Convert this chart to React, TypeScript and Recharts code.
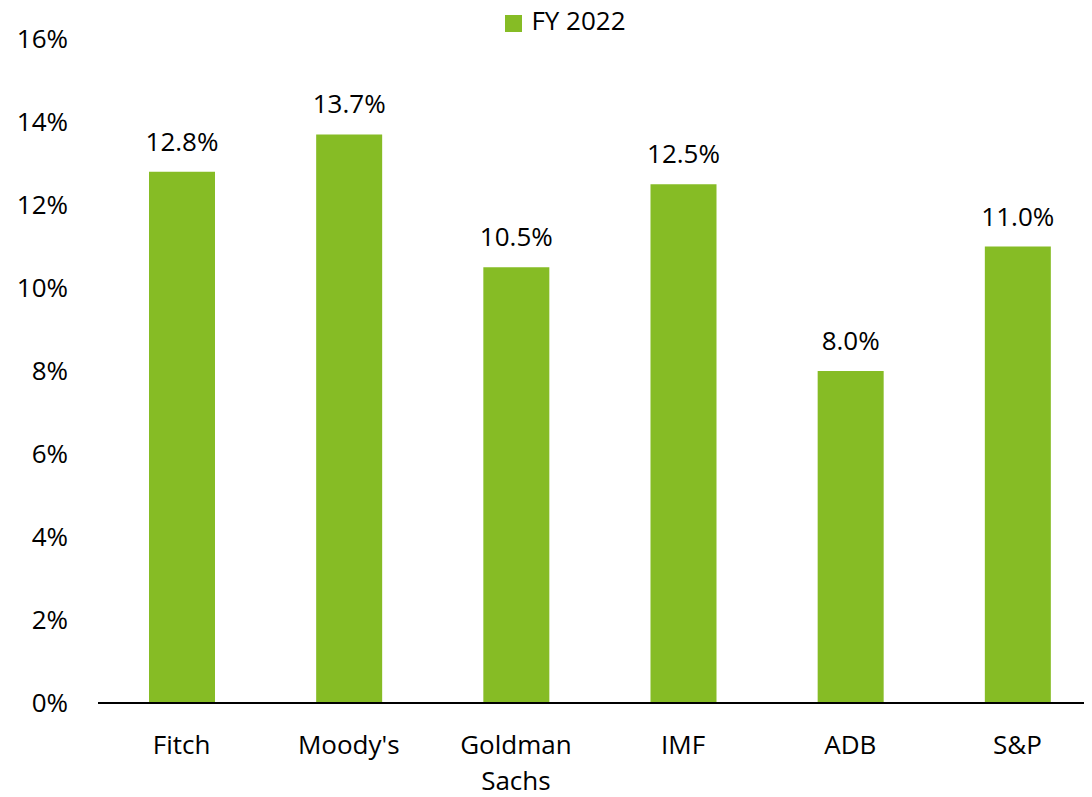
import React from "react";
import { BarChart, Bar, XAxis, YAxis, Legend, LabelList } from "recharts";

const categories = ["Fitch", "Moody's", "Goldman Sachs", "IMF", "ADB", "S&P"];
const fy2022 = [12.8, 13.7, 10.5, 12.5, 8.0, 11.0];
const yTicks = [0, 2, 4, 6, 8, 10, 12, 14, 16];

const FONT = "'Open Sans', 'Liberation Sans', sans-serif";
const GREEN = "#86BC25";
const FS = 26;

// wrap multi-word category names onto separate lines
function CategoryTick(props: any) {
    const { x, y, payload } = props;
    const words = String(payload.value).split(" ");
    return (
        <text
            x={x}
            y={y}
            textAnchor="middle"
            fill="#000"
            fontSize={FS}
            fontFamily={FONT}
        >
            {words.map((w, i) => (
                <tspan key={i} x={x} dy={i === 0 ? "0.71em" : 36}>
                    {w}
                </tspan>
            ))}
        </text>
    );
}

export default function App() {
    const chartData = categories.map((name, i) => ({
        name,
        fy2022: fy2022[i],
    }));

    return (
        <div
            style={{
                width: 1084,
                height: 797,
                overflow: "hidden",
                marginTop: -8,
            }}
        >
            <BarChart
                width={1093}
                height={797}
                data={chartData}
                margin={{ top: 3, right: 0, bottom: 0, left: 0 }}
                style={{ fontFamily: FONT }}
            >
                <Legend
                    verticalAlign="top"
                    align="center"
                    iconType="square"
                    iconSize={17}
                    wrapperStyle={{
                        fontSize: FS,
                        fontFamily: FONT,
                        top: 2,
                        left: 16,
                    }}
                    formatter={(value) => (
                        <span style={{ color: "#000", marginLeft: 5 }}>
                            {value}
                        </span>
                    )}
                />
                <XAxis
                    dataKey="name"
                    height={94}
                    interval={0}
                    tickSize={0}
                    tickMargin={33}
                    tick={<CategoryTick />}
                    axisLine={{ stroke: "#000", strokeWidth: 2 }}
                />
                <YAxis
                    width={90}
                    domain={[0, 16]}
                    ticks={yTicks}
                    tickFormatter={(v) => `${v}%`}
                    axisLine={false}
                    tickLine={false}
                    tickSize={0}
                    tickMargin={30}
                    tick={{ fill: "#000", fontSize: FS, fontFamily: FONT }}
                />
                <Bar
                    dataKey="fy2022"
                    name="FY 2022"
                    fill={GREEN}
                    barSize={66}
                    isAnimationActive={false}
                >
                    <LabelList
                        dataKey="fy2022"
                        position="top"
                        offset={21}
                        formatter={(v: any) => `${Number(v).toFixed(1)}%`}
                        style={{ fill: "#000", fontSize: FS, fontFamily: FONT }}
                    />
                </Bar>
            </BarChart>
        </div>
    );
}
